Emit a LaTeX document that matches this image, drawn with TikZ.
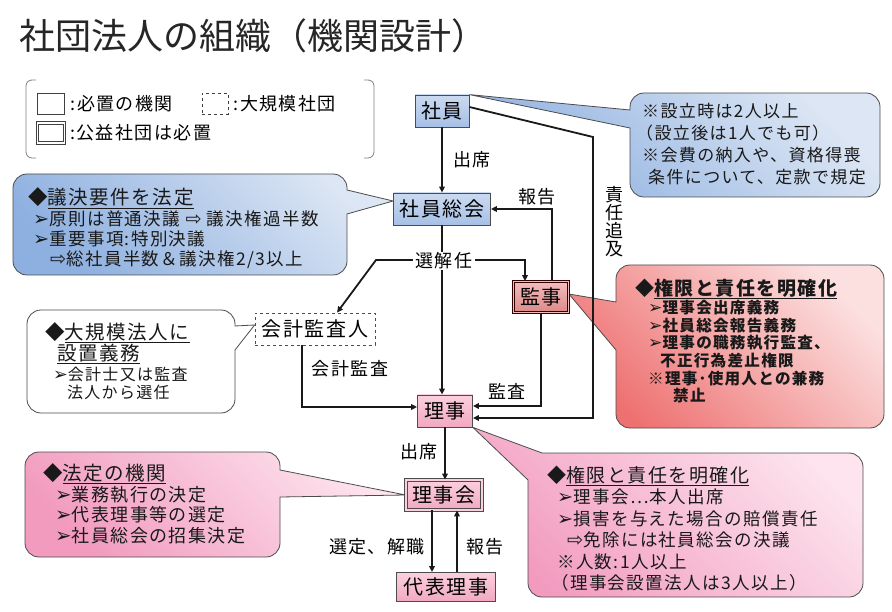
\documentclass[tikz,border=0pt]{standalone}
\usepackage{fontspec}
\setmainfont{Noto Sans CJK JP}[LetterSpace=8]
\newfontfamily\titlefont{Noto Sans CJK JP}
\newfontfamily\symfont{DejaVu Sans}[Scale=1.1]
\usetikzlibrary{arrows.meta}
\pgfdeclarelayer{bg}
\pgfsetlayers{bg,main}
\newcommand\ptr{{\symfont ➢}}
\newcommand\hol{{\symfont ⇨}}
\definecolor{blueL}{HTML}{DCE6F4}
\definecolor{blueD}{HTML}{8EB0E0}
\definecolor{nbL}{HTML}{CCDAF0}
\definecolor{nbD}{HTML}{A6C0E6}
\definecolor{redL}{HTML}{FCE0E0}
\definecolor{redD}{HTML}{EE7070}
\definecolor{kjL}{HTML}{F4BDBD}
\definecolor{kjD}{HTML}{DD8888}
\definecolor{pinkL}{HTML}{FDE4EE}
\definecolor{pinkD}{HTML}{F29BBF}
\definecolor{npL}{HTML}{FAD0DE}
\definecolor{npD}{HTML}{F2A8C2}
\begin{document}
\begin{tikzpicture}[x=1pt,y=-1pt,
  conn/.style={line width=1.8pt, draw=black!90},
  arr/.style={conn, -{Triangle[length=6pt,width=5.5pt]}},
  organ/.style={draw=black!70, line width=0.8pt, inner sep=0, font=\fontsize{20}{20}\selectfont},
  bluebox/.style={organ, top color=nbL, bottom color=nbD},
  pinkbox/.style={organ, top color=npL, bottom color=npD},
  lbl/.style={font=\fontsize{18}{18}\selectfont, inner sep=1pt},
  bubble/.style={draw=black!70, line width=0.8pt, rounded corners=14pt},
  txt/.style={anchor=north west, inner sep=0, align=left, text=black!90},
  legbox/.style={draw=black!75, line width=0.8pt, inner sep=0, fill=white}
]
\useasboundingbox (0,0) rectangle (892,612);
\begin{pgfonlayer}{bg}
\fill[white] (0,0) rectangle (892,612);
\end{pgfonlayer}

% title
\node[anchor=west, inner sep=0, text=black!85, font=\titlefont\fontsize{36}{36}\selectfont] (title) at (19,36) {社団法人の組織（機関設計）};

% legend
\draw[black!50, line width=0.8pt, rounded corners=6pt] (36,80) -- (26,80) -- (26,158) -- (36,158);
\draw[black!50, line width=0.8pt, rounded corners=6pt] (364,80) -- (374,80) -- (374,158) -- (364,158);
\node[legbox, minimum width=27pt, minimum height=21pt] (lg1) at (50.5,103.5) {};
\node[anchor=west, lbl] (lg1t) at ([xshift=5pt]lg1.east) {:必置の機関};
\node[legbox, dashed, minimum width=26pt, minimum height=21pt] (lg2) at (215,104) {};
\node[anchor=west, lbl] (lg2t) at ([xshift=4pt]lg2.east) {:大規模社団};
\node[legbox, double=white, double distance=1.5pt, minimum width=27pt, minimum height=20pt] (lg3) at (51,133) {};
\node[anchor=west, lbl] (lg3t) at ([xshift=4pt]lg3.east) {:公益社団は必置};

% organs
\node[bluebox, minimum width=54pt, minimum height=32pt] (shain) at (442,111) {社員};
\node[bluebox, minimum width=97pt, minimum height=32pt] (soukai) at (442,209) {社員総会};
\node[organ, top color=kjL, bottom color=kjD, draw=black!80!red, double=kjL, double distance=1.3pt, minimum width=55pt, minimum height=31pt] (kanji) at (541,297) {監事};
\node[organ, dashed, fill=white, minimum width=120pt, minimum height=32pt] (kaikei) at (315,329) {会計監査人};
\node[pinkbox, minimum width=55pt, minimum height=32pt] (riji) at (445,411) {理事};
\node[pinkbox, double=npL, double distance=1.5pt, minimum width=76pt, minimum height=30pt] (rijikai) at (444,495) {理事会};
\node[pinkbox, minimum width=99pt, minimum height=29pt] (daihyo) at (446,587) {代表理事};

% connectors
\draw[arr] (shain.south) -- (soukai.north);
\coordinate (sel) at (442,260);
\coordinate (selL) at (376,260);
\coordinate (sk) at (593,137);
\draw[arr] (soukai.south) -- (soukai.south |- riji.north);
\draw[arr] (sel) -- (selL) -- ([xshift=22pt]kaikei.north);
\draw[arr] (sel) -| ([xshift=-16pt]kanji.north);
\draw[arr] ([xshift=11pt]kanji.north) |- (soukai.east);
\draw[arr] (kanji.south) |- ([yshift=5pt]riji.east);
\draw[arr] ([yshift=4pt]shain.east) -- (sk) |- ([yshift=-7pt]riji.east);
\draw[arr] ([xshift=-13pt]kaikei.south) |- ([yshift=4pt]riji.west);
\draw[arr] (riji.south) -- (riji.south |- rijikai.north);
\draw[arr] ([xshift=-12pt]rijikai.south) -- ([xshift=-12pt]rijikai.south |- daihyo.north);
\draw[arr] ([xshift=13pt]rijikai.south |- daihyo.north) -- ([xshift=13pt]rijikai.south);

% labels
\node[lbl] (lA) at (472,160) {出席};
\node[lbl] (lB) at (537,197) {報告};
\node[lbl, align=center, font=\fontsize{18}{18}\selectfont] (lC) at (614,222) {責\\任\\追\\及};
\node[lbl, fill=white, inner xsep=3pt] (lD) at (444,261) {選解任};
\node[lbl] (lE) at (350,369) {会計監査};
\node[lbl] (lF) at (507,391) {監査};
\node[lbl] (lG) at (419,452) {出席};
\node[lbl] (lH) at (377,547) {選定、解職};
\node[lbl] (lI) at (485,547) {報告};

% callout bubbles
\begin{pgfonlayer}{bg}
\path[bubble, top color=blueL, bottom color=blueD, shading angle=-45]
  (630,128) -- (630,197) -- (880,197) -- (880,93) -- (630,93) [sharp corners] -- (630,110) -- (shain.north east) -- cycle;
\path[bubble, top color=blueL, bottom color=blueD, shading angle=-45]
  (347,214) -- (347,275) -- (13,275) -- (13,174) -- (347,174) [sharp corners] -- (347,190) -- ([yshift=8pt]soukai.west) -- cycle;
\path[bubble, fill=white]
  (235,350) -- (235,413) -- (27,413) -- (27,310) -- (235,310) [sharp corners] -- (235,326) -- ([yshift=4pt]kaikei.west) -- cycle;
\path[bubble, top color=redL, bottom color=redD, shading angle=-45]
  (616,350) -- (616,428) -- (884,428) -- (884,265) -- (616,265) [sharp corners] -- (616,302) -- ([yshift=3pt]kanji.east) -- cycle;
\path[bubble, top color=pinkL, bottom color=pinkD, shading angle=-45]
  (280,497) -- (280,557) -- (25,557) -- (25,452) -- (280,452) [sharp corners] -- (280,470) -- (rijikai.west) -- cycle;
\path[bubble, top color=pinkL, bottom color=pinkD, shading angle=-45]
  (528,480) -- (528,597) -- (863,597) -- (863,453) [sharp corners] -- (542,453) -- (riji.south east) -- cycle;
\end{pgfonlayer}

% callout texts
\node[txt, font=\fontsize{17}{22}\selectfont] (c1t) at (642,103.5) {%
※設立時は2人以上\\
\hspace*{-6pt}（設立後は1人でも可）\\
※会費の納入や、資格得喪\\
\hspace*{6pt}条件について、定款で規定};

\node[txt, font=\fontsize{17.5}{20}\selectfont] (c2t) at (28,187.5) {%
{\fontsize{19.5}{20}\selectfont ◆\underline{議決要件を法定}}\\[1pt]
\hspace*{5pt}\ptr 原則は普通決議 \hol\ 議決権過半数\\
\hspace*{5pt}\ptr 重要事項:特別決議\\
\hspace*{22pt}\hol 総社員半数＆議決権2/3以上};

\node[txt, font=\fontsize{16}{18}\selectfont] (c3t) at (45,322.5) {%
{\fontsize{19.5}{18}\selectfont ◆\underline{大規模法人に}}\\
{\fontsize{19.5}{18}\selectfont \hspace*{12pt}\underline{設置義務}}\\[2pt]
\hspace*{8pt}\ptr 会計士又は監査\\
\hspace*{22pt}法人から選任};

\node[txt, font=\bfseries\fontsize{15.6}{17.6}\selectfont] (c4t) at (635,278.5) {%
{\fontsize{19}{17.6}\selectfont ◆\underline{権限と責任を明確化}}\\[1pt]
\hspace*{13pt}\ptr 理事会出席義務\\
\hspace*{13pt}\ptr 社員総会報告義務\\
\hspace*{13pt}\ptr 理事の職務執行監査、\\
\hspace*{25pt}不正行為差止権限\\
\hspace*{13pt}※理事･使用人との兼務\\
\hspace*{38pt}禁止};

\node[txt, font=\fontsize{18}{20.5}\selectfont] (c5t) at (43,463.5) {%
{\fontsize{19.5}{20.5}\selectfont ◆\underline{法定の機関}}\\
\hspace*{12pt}\ptr 業務執行の決定\\
\hspace*{12pt}\ptr 代表理事等の選定\\
\hspace*{12pt}\ptr 社員総会の招集決定};

\node[txt, font=\fontsize{17.5}{21.5}\selectfont] (c6t) at (547,465.5) {%
{\fontsize{19}{21.5}\selectfont ◆\underline{権限と責任を明確化}}\\
\hspace*{10pt}\ptr 理事会…本人出席\\
\hspace*{10pt}\ptr 損害を与えた場合の賠償責任\\
\hspace*{20pt}\hol 免除には社員総会の決議\\
\hspace*{10pt}※人数:1人以上\\
\hspace*{4pt}（理事会設置法人は3人以上）};
\end{tikzpicture}
\end{document}
